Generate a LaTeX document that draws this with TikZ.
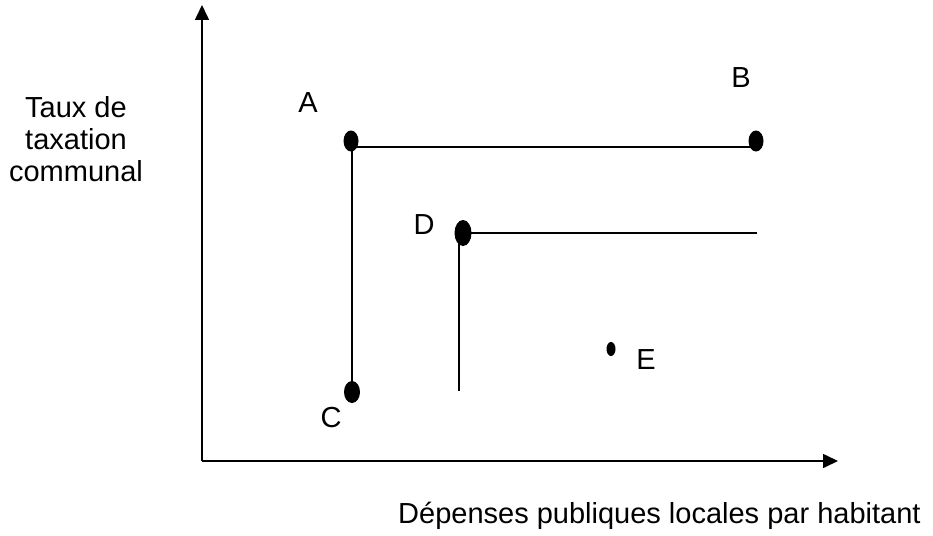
\documentclass[tikz,border=0pt]{standalone}
\usepackage{fontspec}
\setmainfont{Liberation Sans}
\usetikzlibrary{arrows.meta,shapes.geometric}

\tikzset{
  axis/.style={line width=1.6pt, -{Triangle[length=15pt,width=14pt]}},
  seg/.style={line width=1.6pt},
  dot/.style={ellipse, fill=black, inner sep=0pt},
  lbl/.style={inner sep=0pt, font=\fontsize{29}{32}\selectfont},
}

\begin{document}
\begin{tikzpicture}[x=1pt, y=-1pt]
  \useasboundingbox (0,0) rectangle (933,535);

  % axes
  \coordinate (O) at (202,461);
  \coordinate (ytip) at (202,5);
  \coordinate (xtip) at (838,461);
  \draw[axis] (O) -- (ytip);
  \draw[axis] (O) -- (xtip);

  % corners and ends of the segments
  \coordinate (a) at (352,147);
  \coordinate (b) at (756,147);
  \coordinate (c) at (352,390);
  \coordinate (d) at (459,233);
  \coordinate (dr) at (757,233);
  \coordinate (db) at (459,391);

  \draw[seg] (c) -- (a) -- (b);
  \draw[seg] (db) -- (d) -- (dr);

  % points
  \node[dot, minimum width=15pt, minimum height=21pt] (A) at (351,141) {};
  \node[dot, minimum width=15pt, minimum height=21pt] (B) at (756,141) {};
  \node[dot, minimum width=16pt, minimum height=22pt] (C) at (352,392) {};
  \node[dot, minimum width=17pt, minimum height=26pt] (D) at (463,233) {};
  \node[dot, minimum width=9pt, minimum height=14pt] (E) at (611,349) {};

  % point names
  \node[lbl] (lA) at (308,103) {A};
  \node[lbl] (lB) at (741,78) {B};
  \node[lbl] (lC) at (331,418) {C};
  \node[lbl] (lD) at (424,225) {D};
  \node[lbl] (lE) at (646,360) {E};

  % axis titles (base anchor sits on the last line)
  \node[lbl, align=center, anchor=base] (ylab) at (76,181) {Taux de\\taxation\\communal};
  \node[lbl, anchor=base west] (xlab) at (398,523) {Dépenses publiques locales par habitant};
\end{tikzpicture}
\end{document}
